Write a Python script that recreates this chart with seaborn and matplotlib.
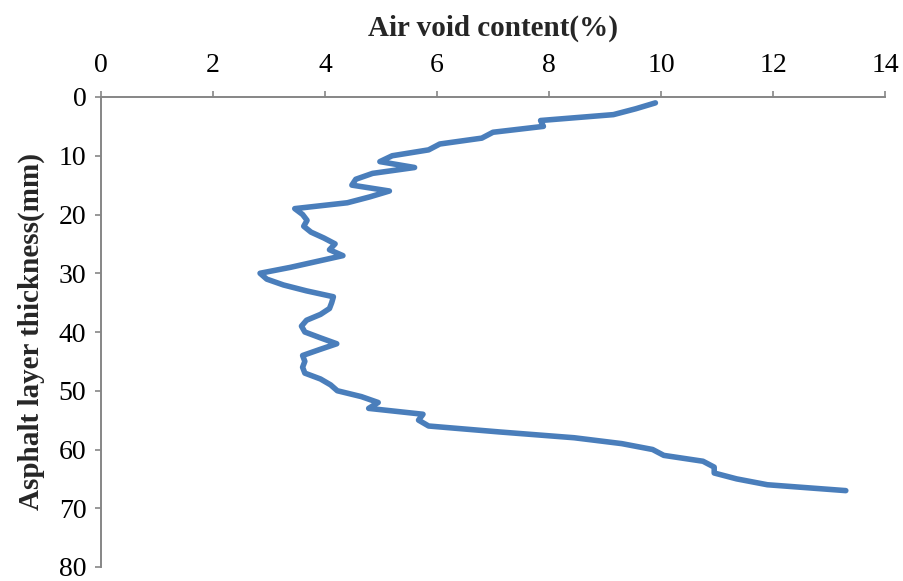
import matplotlib
matplotlib.use("Agg")
import matplotlib.pyplot as plt
import seaborn as sns
import pandas as pd

# Data
depth_mm = list(range(1, 68))
air_void_pct = [
    9.90, 9.55, 9.15, 7.85, 7.90, 7.00, 6.80, 6.05, 5.85, 5.20,
    4.98, 5.60, 4.85, 4.55, 4.48, 5.15, 4.80, 4.40, 3.46, 3.60,
    3.68, 3.62, 3.75, 3.98, 4.18, 4.08, 4.32, 3.85, 3.38, 2.84,
    2.96, 3.26, 3.67, 4.15, 4.12, 4.08, 3.92, 3.67, 3.58, 3.64,
    3.92, 4.21, 3.90, 3.60, 3.64, 3.60, 3.64, 3.92, 4.10, 4.22,
    4.65, 4.95, 4.78, 5.75, 5.67, 5.85, 7.10, 8.45, 9.30, 9.85,
    10.05, 10.75, 10.95, 10.95, 11.35, 11.90, 13.30,
]
x_ticks = [0, 2, 4, 6, 8, 10, 12, 14]
y_ticks = [0, 10, 20, 30, 40, 50, 60, 70, 80]
x_title = "Air void content(%)"
y_title = "Asphalt layer thickness(mm)"

sns.set_theme(style="white")
plt.rcParams["font.family"] = ["Liberation Serif", "DejaVu Serif"]

df = pd.DataFrame({"void": air_void_pct, "depth": depth_mm})

fig = plt.figure(figsize=(9.04, 5.81), dpi=100)
ax = fig.add_axes([101 / 904, 14 / 581, 784 / 904, 470 / 581])

sns.lineplot(data=df, x="void", y="depth", sort=False, estimator=None,
             orient="y", color="#4A7EBB", linewidth=4.0, ax=ax,
             solid_capstyle="round", solid_joinstyle="round")

ax.set_xlim(0, 14)
ax.set_ylim(80, 0)
ax.set_xticks(x_ticks)
ax.set_yticks(y_ticks)
ax.set_xticklabels([str(v) for v in x_ticks])
ax.set_yticklabels([str(v) for v in y_ticks])

ax.xaxis.tick_top()
ax.xaxis.set_label_position("top")

gray = "#868686"
for side in ["right", "bottom"]:
    ax.spines[side].set_visible(False)
for side in ["left", "top"]:
    ax.spines[side].set_visible(True)
    ax.spines[side].set_color(gray)
    ax.spines[side].set_linewidth(1.4)

ax.tick_params(axis="x", which="both", top=True, bottom=False, direction="out",
               length=4.5, width=1.2, color=gray, labelsize=20, pad=9,
               labelcolor="black")
ax.tick_params(axis="y", which="both", left=True, direction="out",
               length=4.5, width=1.2, color=gray, labelsize=20, pad=6,
               labelcolor="black")

ax.set_xlabel(x_title, fontsize=21, fontweight="bold", labelpad=13)
ax.set_ylabel(y_title, fontsize=21, fontweight="bold", labelpad=10)
ax.grid(False)

fig.savefig("out.png", dpi=100)
